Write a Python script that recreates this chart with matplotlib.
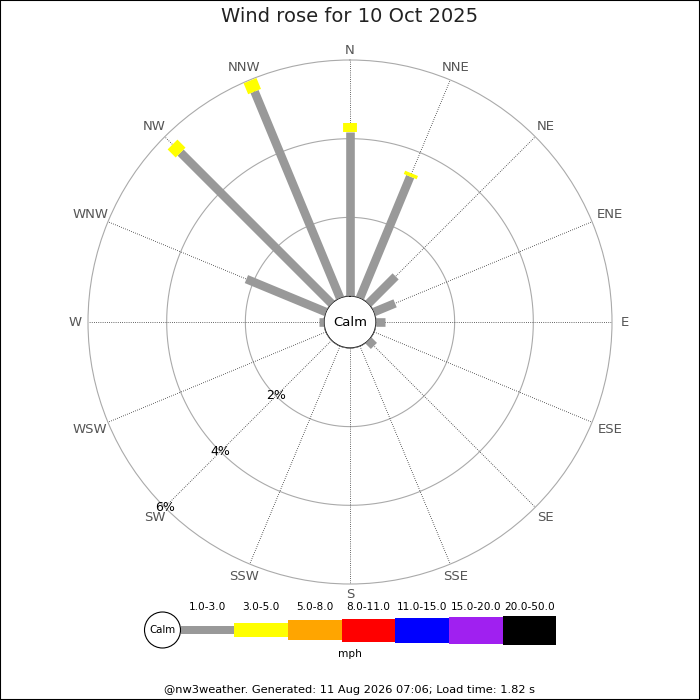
"""Wind rose for 10 Oct 2025 (nw3weather style)."""

import numpy as np
import matplotlib
matplotlib.use("Agg")
import matplotlib.pyplot as plt
from matplotlib.patches import Circle, Rectangle


TITLE = "Wind rose for 10 Oct 2025"
FOOTER = "@nw3weather. Generated: 11 Aug 2026 07:06; Load time: 1.82 s"

DIRECTIONS = ["N", "NNE", "NE", "ENE", "E", "ESE", "SE", "SSE",
              "S", "SSW", "SW", "WSW", "W", "WNW", "NW", "NNW"]

# frequency (%) per direction and speed bin
PCT_1_3 = [4.17, 3.34, 0.98, 0.58, 0.22, 0.0, 0.20, 0.0,
           0.0, 0.0, 0.0, 0.0, 0.13, 2.19, 5.43, 5.68]
PCT_3_5 = [0.22, 0.09, 0.0, 0.0, 0.0, 0.0, 0.0, 0.0,
           0.0, 0.0, 0.0, 0.0, 0.0, 0.0, 0.29, 0.30]

RING_TICKS = [2, 4, 6]

SPEED_BINS = ["1.0-3.0", "3.0-5.0", "5.0-8.0", "8.0-11.0",
              "11.0-15.0", "15.0-20.0", "20.0-50.0"]
BIN_COLORS = ["#999999", "#ffff00", "#ffa500", "#ff0000",
              "#0000ff", "#a020f0", "#000000"]
BIN_HEIGHTS = [8.3, 14.7, 20.7, 23.0, 25.0, 27.0, 29.0]

CALM_R = 0.66   # calm circle radius in % units
R_MAX = 6
PX_PER_PCT = 262 / (R_MAX + CALM_R)


def main():
    fig = plt.figure(figsize=(7, 7), dpi=100)

    # polar rose: centre at (350, 322) px, outer ring radius 262 px
    ax = fig.add_axes([88 / 700, (700 - 322 - 262) / 700, 524 / 700, 524 / 700],
                      projection="polar")
    ax.set_theta_zero_location("N")
    ax.set_theta_direction(-1)
    ax.set_rlim(0, R_MAX)
    ax.set_rorigin(-CALM_R)
    ax.set_xticks([])
    ax.set_yticks([])
    ax.grid(False)
    ax.spines["polar"].set_color("#aaaaaa")
    ax.spines["polar"].set_linewidth(0.8)
    for name in ("inner", "start", "end"):
        if name in ax.spines:
            ax.spines[name].set_visible(False)

    angles = np.deg2rad(np.arange(len(DIRECTIONS)) * 360 / len(DIRECTIONS))
    full = np.linspace(0, 2 * np.pi, 361)

    for r in RING_TICKS[:-1]:
        ax.plot(full, np.full_like(full, r), color="#aaaaaa", lw=0.8, zorder=1)
    ax.plot(full, np.zeros_like(full), color="#888888", lw=0.8, zorder=4)

    for th in angles:
        ax.plot([th, th], [0, R_MAX], color="#333333", lw=0.6,
                linestyle=(0, (1, 1.6)), zorder=1)

    for th, g, y in zip(angles, PCT_1_3, PCT_3_5):
        if g > 0:
            ax.plot([th, th], [0, g], color=BIN_COLORS[0], lw=6.2,
                    solid_capstyle="butt", zorder=3)
        if y > 0:
            ax.plot([th, th], [g, g + y], color=BIN_COLORS[1], lw=10,
                    solid_capstyle="butt", zorder=3)

    # compass labels pushed out a bit more where the text is wide sideways
    for th, lab in zip(angles, DIRECTIONS):
        r_px = 272 + 0.7 * 4.7 * len(lab) * abs(np.sin(th))
        ax.text(th, r_px / PX_PER_PCT - CALM_R, lab, ha="center", va="center",
                fontsize=9.5, color="#555555", clip_on=False)

    for r in RING_TICKS:
        ax.text(np.deg2rad(225), r, f"{r}%", ha="center", va="center",
                fontsize=9, color="black", zorder=5)

    ax.text(0.5, 0.5, "Calm", transform=ax.transAxes, ha="center",
            va="center", fontsize=9.5, color="black", zorder=5)

    fig.text(0.5, 1 - 17 / 700, TITLE, ha="center", va="center",
             fontsize=14, color="#222222")

    # legend strip, drawn in pixel coordinates
    lax = fig.add_axes([0, 0, 1, 1], zorder=-1)
    lax.set_xlim(0, 700)
    lax.set_ylim(700, 0)
    lax.axis("off")

    ly = 630
    x0, seg_w = 180.5, 53.7
    lax.add_patch(Circle((162.5, ly), 18, facecolor="white",
                         edgecolor="black", lw=0.8))
    lax.text(162.5, ly, "Calm", ha="center", va="center", fontsize=7.4)
    for i, (lab, col, h) in enumerate(zip(SPEED_BINS, BIN_COLORS, BIN_HEIGHTS)):
        x = x0 + i * seg_w
        lax.add_patch(Rectangle((x, ly - h / 2), seg_w, h, facecolor=col,
                                edgecolor="none"))
        lax.text(x + seg_w / 2, 607, lab, ha="center", va="center",
                 fontsize=7.6)
    lax.text(350, 654, "mph", ha="center", va="center", fontsize=7.6)
    lax.text(350, 690, FOOTER, ha="center", va="center", fontsize=8.2)

    fig.add_artist(Rectangle((0, 0), 1, 1, transform=fig.transFigure,
                             fill=False, edgecolor="black", lw=1.5))

    fig.savefig("out.png", dpi=100, facecolor="white")
    plt.close(fig)


if __name__ == "__main__":
    main()
